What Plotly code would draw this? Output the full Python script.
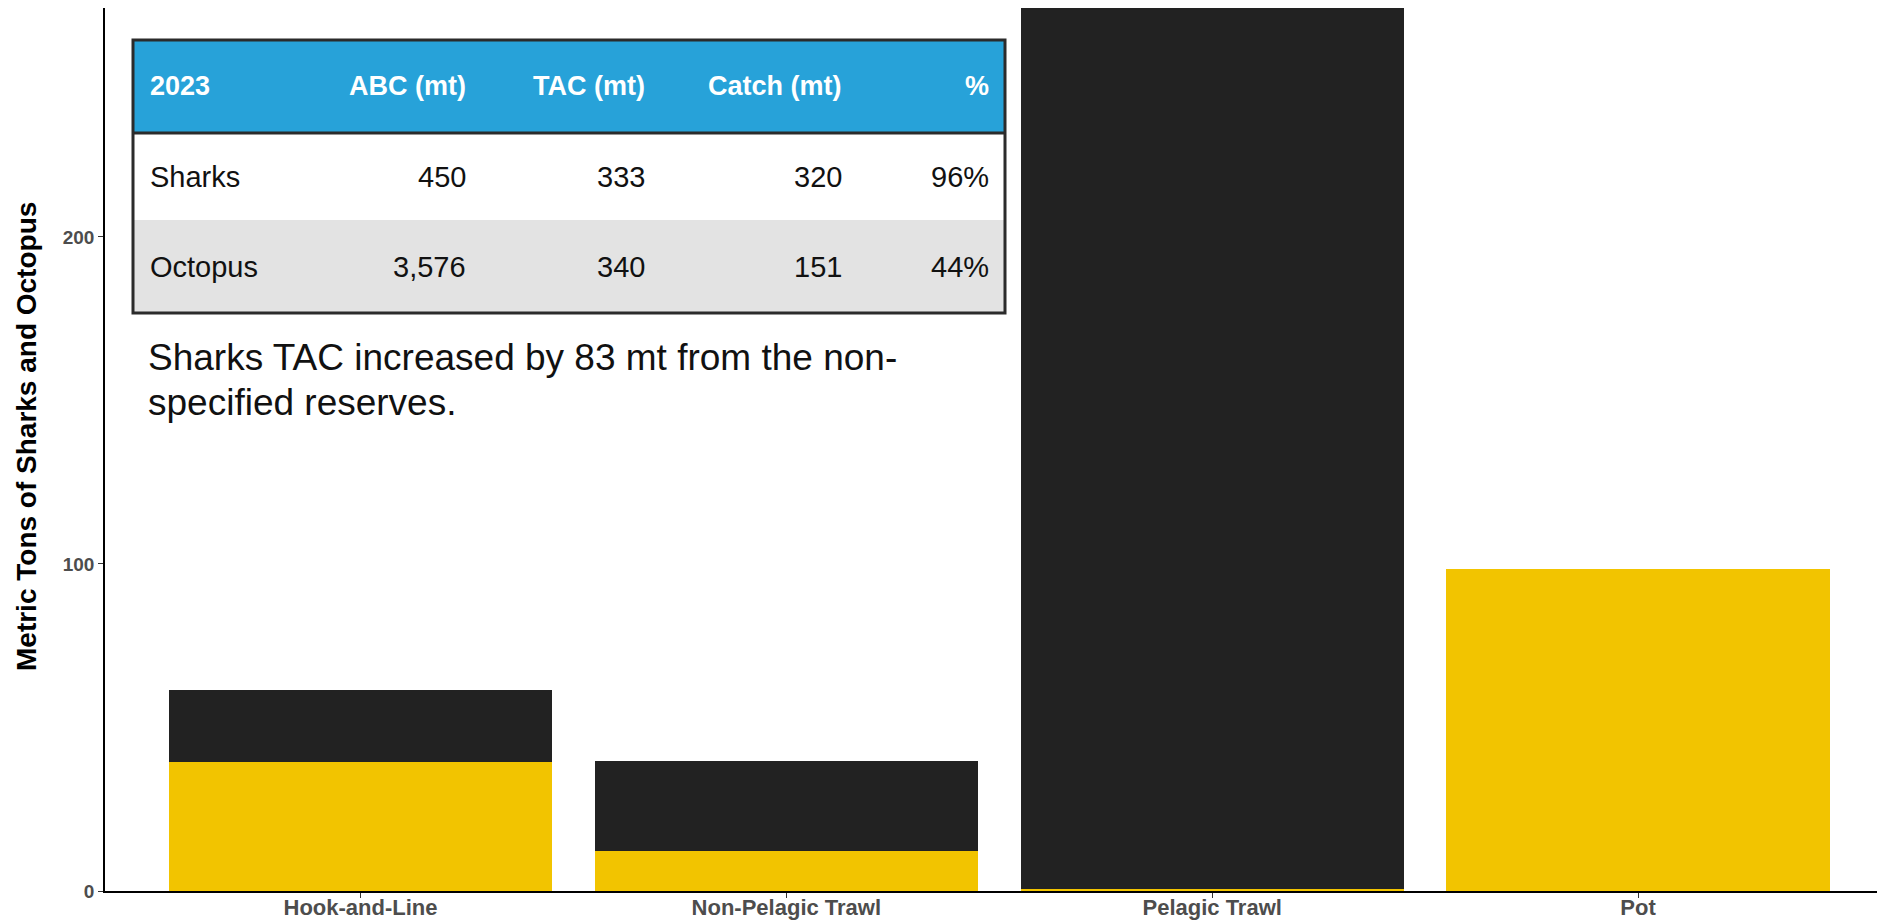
import plotly.graph_objects as go

# ---- data ----
gear_types = ["Hook-and-Line", "Non-Pelagic Trawl", "Pelagic Trawl", "Pot"]
octopus_catch = [39.4, 12.1, 0.6, 98.5]
sharks_catch = [22.0, 27.5, 269.5, 0.0]
y_tick_vals = [0, 100, 200]

table_header = ["2023", "ABC (mt)", "TAC (mt)", "Catch (mt)", "%"]
table_rows = [
    ["Sharks", "450", "333", "320", "96%"],
    ["Octopus", "3,576", "340", "151", "44%"],
]
note_lines = ["Sharks TAC increased by 83 mt from the non-", "specified reserves."]
y_title = "Metric Tons of Sharks and Octopus"

# ---- layout geometry (figure pixels; page has an 8px body offset) ----
OFF = 8
W, H = 1885, 921
L, R, T, B = 97, 8, 0, 38
PW, PH = W - L - R, H - T - B
FONT = "Arial, 'Liberation Sans', sans-serif"


def px(page_x):
    return (page_x - OFF - L) / PW


def py(page_y):
    return 1 - (page_y - OFF - T) / PH


fig = go.Figure()
fig.add_trace(go.Bar(x=gear_types, y=octopus_catch, name="Octopus",
                     marker=dict(color="#F2C400", line=dict(width=0)), width=0.9))
fig.add_trace(go.Bar(x=gear_types, y=sharks_catch, name="Sharks",
                     marker=dict(color="#222222", line=dict(width=0)), width=0.9))

shapes = []
annotations = []

# table geometry (page pixels)
tx0, tx1 = 133, 1005
row_edges = [40, 133, 220, 313]
fills = ["#27A2D9", "#FFFFFF", "#E3E3E3"]
for i in range(3):
    shapes.append(dict(type="rect", xref="paper", yref="paper",
                       x0=px(tx0), x1=px(tx1), y0=py(row_edges[i + 1]), y1=py(row_edges[i]),
                       fillcolor=fills[i], line=dict(width=0), layer="above"))
shapes.append(dict(type="line", xref="paper", yref="paper",
                   x0=px(tx0), x1=px(tx1), y0=py(row_edges[1]), y1=py(row_edges[1]),
                   line=dict(color="#2B2B2B", width=3), layer="above"))
shapes.append(dict(type="rect", xref="paper", yref="paper",
                   x0=px(tx0), x1=px(tx1), y0=py(row_edges[3]), y1=py(row_edges[0]),
                   fillcolor="rgba(0,0,0,0)", line=dict(color="#2B2B2B", width=3), layer="above"))

col_right = [None, 468, 647, 844, 991]
col_left0 = 148
row_centers = [86, 177, 267]
all_rows = [table_header] + table_rows
for r, row in enumerate(all_rows):
    for c, txt in enumerate(row):
        if c == 0:
            xa, xanchor = px(col_left0), "left"
        else:
            xa, xanchor = px(col_right[c]), "right"
        if r == 0:
            f = dict(family=FONT, size=27, color="white", weight="bold")
        else:
            f = dict(family=FONT, size=29, color="#111111")
        annotations.append(dict(xref="paper", yref="paper", x=xa, y=py(row_centers[r]),
                                xanchor=xanchor, yanchor="middle", text=txt,
                                showarrow=False, font=f))

# note text
for i, line in enumerate(note_lines):
    annotations.append(dict(xref="paper", yref="paper", x=px(146), y=py(357 + 45 * i),
                            xanchor="left", yanchor="middle", text=line, showarrow=False,
                            font=dict(family=FONT, size=37, color="#111111")))

# y title
annotations.append(dict(xref="paper", yref="paper", x=px(26), y=py(437),
                        xanchor="center", yanchor="middle", text=y_title, textangle=-90,
                        showarrow=False,
                        font=dict(family=FONT, size=28, color="black", weight="bold")))

fig.update_layout(
    width=W, height=H,
    margin=dict(l=L, r=R, t=T, b=B, pad=0),
    barmode="stack",
    bargap=0.1,
    showlegend=False,
    plot_bgcolor="white",
    paper_bgcolor="white",
    shapes=shapes,
    annotations=annotations,
    xaxis=dict(range=[-0.6, 3.58], showline=True, linecolor="black", linewidth=1.5,
               ticks="outside", ticklen=5, tickcolor="#333333", tickwidth=1.2,
               showgrid=False, zeroline=False, ticklabelstandoff=-9,
               tickfont=dict(family=FONT, size=22, color="#4D4D4D", weight="bold")),
    yaxis=dict(range=[0, 270.0], showline=True, linecolor="black", linewidth=1.5,
               ticks="outside", ticklen=5, tickcolor="#333333", tickwidth=1.2,
               tickvals=y_tick_vals, showgrid=False, zeroline=False,
               tickfont=dict(family=FONT, size=19, color="#4D4D4D", weight="bold")),
)

fig.write_html("out.html")
